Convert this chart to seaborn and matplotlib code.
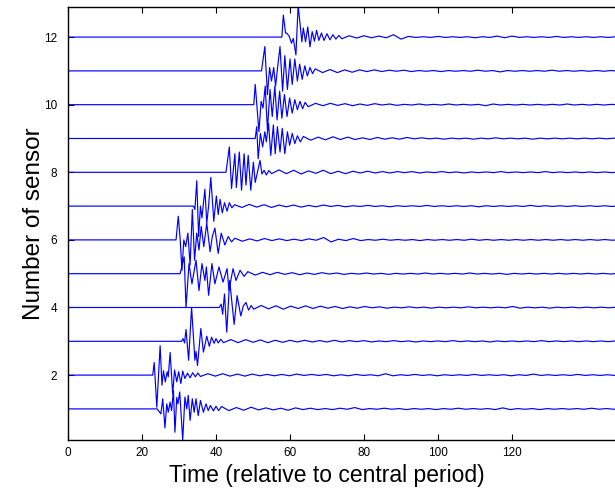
import matplotlib
matplotlib.use("Agg")
import matplotlib.pyplot as plt
import numpy as np
import pandas as pd
import seaborn as sns

# ---------------- data ----------------
sensors = [1, 2, 3, 4, 5, 6, 7, 8, 9, 10, 11, 12]
record_start = 0.0
coda_step = 2.0
x_ticks = [0, 20, 40, 60, 80, 100, 120]
y_ticks = [2, 4, 6, 8, 10, 12]
x_label = "Time (relative to central period)"
y_label = "Number of sensor"

s1_t = [24.1, 25.1, 25.6, 26.2, 26.7, 27.1, 27.6, 28.0, 28.5, 28.9, 29.4, 29.7, 30.2, 31.0, 31.6,
        32.1, 32.5, 33.0, 33.6, 34.1, 34.6, 35.2, 35.8, 36.6, 37.3, 37.9, 38.5, 39.3, 40.0, 40.7, 41.5]
s1_v = [0, -0.15, 0.30, -0.56, 0.15, -0.10, 0.20, -0.05, 0.54, -0.69, 0.34, 0.15, 0.50, -0.92, 0.35,
        0.0, 0.40, -0.34, 0.30, -0.10, 0.30, -0.20, 0.25, -0.10, 0.15, -0.05, 0.10, -0.06, 0.08, -0.05, 0.07]
s1_coda = [-0.05, 0.04, -0.04, 0.05, -0.03, 0.03, -0.03, 0.02, -0.04, 0.03,
           -0.02, 0.02, -0.02, 0.01, -0.02, 0.02, -0.01, 0.04, -0.02, 0.01,
           -0.01, 0.02, -0.01, 0.01, -0.02, 0.01, -0.01, 0.01, -0.02, 0.01,
           -0.01, 0.02, -0.01, 0.01, -0.01, 0.01, -0.02, 0.03, -0.02, 0.01,
           -0.01, 0.01, -0.02, 0.01, -0.01, 0.01, -0.01, 0.01, -0.01, 0.02,
           -0.01, 0.01, -0.01, 0.01, -0.01, 0.01, -0.01, 0.01]

s2_t = [22.9, 23.3, 24.0, 24.9, 25.4, 25.8, 26.3, 26.8, 27.1, 27.6, 28.3, 28.8, 29.4, 29.9, 30.5,
        31.0, 31.6, 32.3, 33.0, 33.7, 34.4, 35.1, 35.8]
s2_v = [0, 0.37, -0.95, 0.87, -0.30, 0.13, -0.20, 0.10, -0.05, 0.67, -0.56, 0.15, -0.20, 0.10, -0.25,
        0.12, -0.10, 0.06, -0.08, 0.07, -0.05, 0.06, -0.04]
s2_coda = [0.04, -0.03, 0.04, -0.03, 0.03, -0.03, 0.03, -0.02, 0.02, -0.02,
           0.02, -0.02, 0.03, -0.01, 0.02, -0.01, 0.02, -0.02, 0.01, -0.02,
           0.02, -0.01, 0.01, -0.02, 0.04, -0.02, 0.01, -0.01, 0.02, -0.01,
           0.01, -0.02, 0.01, -0.01, 0.01, -0.01, 0.02, -0.01, 0.01, -0.01,
           0.01, -0.02, 0.01, -0.01, 0.03, -0.01, 0.01, -0.01, 0.01, -0.01,
           0.02, -0.01, 0.01, -0.01, 0.01, -0.01, 0.01, -0.01, 0.01, -0.01]

s3_t = [30.7, 31.1, 31.5, 31.9, 32.6, 33.4, 34.3, 34.6, 35.0, 35.9, 36.6, 37.5, 38.2, 38.8, 39.5,
        40.0, 40.6, 41.3, 42.0]
s3_v = [0, 0.08, -0.05, 0.35, -0.56, 1.0, -0.56, -0.30, -0.72, 0.38, -0.32, 0.15, -0.15, 0.12, -0.06,
        0.08, -0.05, 0.06, -0.04]
s3_coda = [0.05, -0.04, 0.05, -0.03, 0.04, -0.04, 0.03, -0.03, 0.03, -0.02,
           0.03, -0.02, 0.02, -0.02, 0.03, -0.02, 0.02, -0.01, 0.02, -0.02,
           0.01, -0.01, 0.02, -0.01, 0.01, -0.02, 0.01, -0.01, 0.01, -0.01,
           0.02, -0.01, 0.01, -0.01, 0.01, -0.02, 0.01, -0.01, 0.01, -0.01,
           0.01, -0.01, 0.02, -0.01, 0.01, -0.01, 0.01, -0.01, 0.01, -0.01,
           0.01, -0.01, 0.01, -0.01, 0.01, -0.01, 0.01, -0.01]

s4_t = [40.9, 41.4, 41.8, 42.3, 42.9, 43.7, 44.9, 45.7, 46.7, 47.4, 48.1, 48.8, 49.5, 50.2]
s4_v = [0, 0.10, -0.20, 0.40, -0.73, 0.80, -0.50, 0.35, -0.25, 0.05, 0.15, -0.08, 0.06, -0.05]
s4_coda = [0.06, -0.04, 0.05, -0.05, 0.04, -0.03, 0.05, -0.03, 0.04, -0.02,
           0.03, -0.03, 0.02, -0.02, 0.03, -0.01, 0.02, -0.02, 0.01, -0.01,
           0.02, -0.01, 0.01, -0.02, 0.01, -0.01, 0.01, -0.01, 0.02, -0.01,
           0.01, -0.01, 0.01, -0.01, 0.03, -0.02, 0.01, -0.01, 0.01, -0.02,
           0.01, -0.01, 0.01, -0.01, 0.01, -0.01, 0.01, -0.01, 0.01, -0.01,
           0.01, -0.01, 0.01, -0.01]

s5_t = [30.3, 31.4, 31.9, 32.7, 33.5, 34.6, 35.4, 36.2, 37.0, 37.4, 38.0, 38.9, 39.7, 40.8, 41.9,
        43.0, 43.5, 44.6, 45.4, 46.5, 47.6, 48.6]
s5_v = [0, 0.50, -1.0, 0.30, -0.30, 0.40, -0.50, 0.30, -0.20, 0.20, -0.64, 0.30, -0.30, 0.20, -0.25,
        0.15, -0.50, 0.15, -0.20, 0.10, -0.08, 0.06]
s5_coda = [-0.04, 0.04, -0.03, 0.04, -0.02, 0.03, -0.03, 0.02, -0.02, 0.03,
           -0.01, 0.02, -0.02, 0.01, -0.01, 0.02, -0.01, 0.01, -0.02, 0.01,
           -0.01, 0.01, -0.01, 0.02, -0.01, 0.01, -0.01, 0.01, -0.01, 0.02,
           -0.01, 0.01, -0.01, 0.01, -0.02, 0.01, -0.01, 0.01, -0.01, 0.01,
           -0.01, 0.01, -0.01, 0.01, -0.01, 0.01, -0.01, 0.01, -0.01, 0.01,
           -0.01, 0.01, -0.01, 0.01, -0.01]

s6_t = [29.2, 29.8, 30.3, 30.8, 31.3, 31.8, 32.4, 33.0, 33.6, 34.2, 34.8, 35.4, 36.0, 36.7, 37.5,
        38.4, 39.0, 39.7, 40.6, 41.4, 42.4, 43.3, 44.2, 45.1]
s6_v = [0, 0.70, 0.05, -0.90, 0.0, -0.20, 0.20, -0.75, 0.90, -0.60, 0.20, -0.30, 0.40, -0.20, 0.50,
        -0.35, 0.10, 0.35, -0.40, 0.20, -0.15, 0.10, -0.06, 0.05]
s6_coda = [-0.04, 0.03, -0.03, 0.04, -0.02, 0.03, -0.02, 0.02, -0.02, 0.03,
           -0.01, 0.07, -0.06, 0.02, -0.02, 0.04, -0.02, 0.01, -0.01, 0.02,
           -0.01, 0.01, -0.01, 0.01, -0.02, 0.01, -0.01, 0.01, -0.01, 0.01,
           -0.01, 0.02, -0.01, 0.01, -0.01, 0.01, -0.01, 0.01, -0.01, 0.01,
           -0.01, 0.01, -0.01, 0.01, -0.01, 0.01, -0.01, 0.01, -0.01, 0.01,
           -0.01, 0.01, -0.01, 0.01]

s7_t = [33.9, 34.3, 34.8, 35.3, 35.8, 36.2, 37.0, 37.5, 38.0, 38.6, 39.4, 40.1, 40.6, 41.1, 41.7,
        42.3, 43.0, 43.6, 44.3, 45.0]
s7_v = [0, -0.10, 0.75, -0.90, 0.0, -0.35, 0.50, -0.50, 0.0, 0.85, -0.45, 0.30, -0.25, 0.20, -0.20,
        0.10, -0.15, 0.10, -0.05, 0.04]
s7_coda = [-0.04, 0.05, -0.03, 0.04, -0.04, 0.03, -0.02, 0.03, -0.03, 0.02,
           -0.02, 0.03, -0.01, 0.02, -0.02, 0.01, -0.01, 0.02, -0.01, 0.01,
           -0.02, 0.01, -0.01, 0.01, -0.01, 0.02, -0.01, 0.01, -0.01, 0.01,
           -0.01, 0.01, -0.02, 0.01, -0.01, 0.01, -0.01, 0.01, -0.01, 0.02,
           -0.01, 0.01, -0.01, 0.01, -0.01, 0.01, -0.01, 0.01, -0.01, 0.01,
           -0.01, 0.01, -0.01, 0.01]

s8_t = [42.7, 43.6, 44.2, 45.1, 45.5, 46.3, 46.9, 47.6, 48.1, 48.7, 49.4, 50.1, 50.6, 51.4, 51.9,
        52.4, 53.0, 53.6, 54.3, 55.0]
s8_v = [0, 0.75, -0.48, 0.55, -0.45, 0.60, -0.53, 0.55, -0.38, 0.50, -0.53, 0.30, -0.30, 0.10, 0.35,
        -0.05, 0.06, -0.08, 0.05, -0.04]
s8_coda = [0.07, -0.04, 0.06, -0.05, 0.04, -0.03, 0.06, -0.04, 0.03, -0.04,
           0.03, -0.02, 0.03, -0.02, 0.02, -0.02, 0.02, -0.01, 0.02, -0.02,
           0.01, -0.01, 0.02, -0.01, 0.01, -0.02, 0.01, -0.01, 0.01, -0.01,
           0.02, -0.01, 0.01, -0.01, 0.01, -0.01, 0.02, -0.01, 0.01, -0.01,
           0.01, -0.01, 0.01, -0.01, 0.01, -0.01, 0.01, -0.01, 0.01, -0.01]

s9_t = [50.6, 51.0, 51.4, 52.0, 52.6, 53.2, 53.6, 54.2, 54.8, 55.5, 56.0, 56.6, 57.3, 57.9, 58.6,
        59.3, 59.9, 60.6, 61.3, 62.0, 62.8, 63.6]
s9_v = [0, 0.35, -0.60, 0.15, -0.25, 0.20, -0.10, 0.45, -0.50, 0.40, -0.45, 0.35, -0.40, 0.30, -0.45,
        0.20, -0.20, 0.15, -0.15, 0.08, -0.10, 0.06]
s9_coda = [-0.05, 0.04, -0.04, 0.05, -0.03, 0.04, -0.03, 0.02, -0.03, 0.03,
           -0.02, 0.02, -0.02, 0.03, -0.01, 0.02, -0.01, 0.01, -0.02, 0.01,
           -0.01, 0.01, -0.02, 0.01, -0.01, 0.02, -0.01, 0.01, -0.01, 0.01,
           -0.02, 0.01, -0.01, 0.01, -0.01, 0.01, -0.01, 0.01, -0.01, 0.01,
           -0.01, 0.01, -0.01, 0.01]

s10_t = [50.2, 50.6, 51.1, 51.6, 52.2, 52.7, 53.3, 53.9, 54.6, 55.2, 55.9, 56.5, 57.2, 57.8, 58.5,
         59.2, 59.9, 60.6, 61.3, 62.0, 62.7, 63.4, 64.1, 64.9]
s10_v = [0, 0.60, -0.10, -0.80, 0.10, -0.10, 0.55, -0.75, 0.45, -0.35, 0.55, -0.45, 0.40, -0.40, 0.30,
         -0.35, 0.20, -0.25, 0.15, -0.15, 0.10, -0.12, 0.07, -0.06]
s10_coda = [0.04, -0.03, 0.04, -0.02, 0.03, -0.03, 0.02, -0.02, 0.03, -0.01,
            0.02, -0.02, 0.01, -0.01, 0.02, -0.01, 0.01, -0.01, 0.02, -0.01,
            0.01, -0.01, 0.01, -0.03, 0.02, -0.01, 0.01, -0.01, 0.01, -0.01,
            0.01, -0.01, 0.01, -0.01, 0.02, -0.01, 0.01, -0.01, 0.01, -0.01,
            0.01, -0.01, 0.01, -0.01]

s11_t = [52.3, 53.2, 53.9, 54.5, 55.0, 55.6, 56.1, 56.7, 57.3, 58.0, 58.6, 59.3, 60.0, 60.6, 61.3,
         62.0, 62.6, 63.3, 64.0, 64.7, 65.4, 66.1, 66.8]
s11_v = [0, 0.72, -0.70, 0.10, -0.30, 0.10, -0.45, 0.15, 0.72, -0.60, 0.45, -0.55, 0.35, -0.40, 0.35,
         -0.30, 0.20, -0.25, 0.15, -0.15, 0.10, -0.08, 0.06]
s11_coda = [-0.05, 0.04, -0.05, 0.03, -0.04, 0.03, -0.02, 0.03, -0.02, 0.02,
            -0.01, 0.02, -0.02, 0.01, -0.01, 0.01, -0.02, 0.01, -0.01, 0.01,
            -0.01, 0.02, -0.01, 0.01, -0.03, 0.01, -0.01, 0.01, -0.01, 0.01,
            -0.01, 0.02, -0.01, 0.01, -0.01, 0.01, -0.01, 0.01, -0.01, 0.01,
            -0.01, 0.01, -0.01]

s12_t = [57.8, 58.2, 58.8, 59.1, 59.8, 60.4, 60.9, 61.6, 62.2, 63.2, 63.6, 64.2, 64.8, 65.4, 66.0,
         66.6, 67.2, 67.8, 68.5, 69.2, 70.0, 70.8, 71.6, 72.4, 73.2, 74.0]
s12_v = [0, 0.65, 0.12, 0.12, 0.02, -0.18, -0.04, -0.53, 0.95, -0.14, 0.27, -0.14, 0.30, -0.29, 0.16,
         -0.12, 0.20, -0.10, 0.12, -0.10, 0.10, -0.08, 0.07, -0.06, 0.05, -0.05]
s12_coda = [0.04, -0.03, 0.04, -0.02, 0.03, -0.02, 0.07, -0.06, 0.02, -0.01,
            0.01, -0.01, 0.02, -0.01, 0.01, -0.01, 0.01, -0.02, 0.01, -0.01,
            0.03, -0.02, 0.03, -0.01, 0.01, -0.01, 0.01, -0.01, 0.02, -0.01,
            0.01, -0.01, 0.01, -0.01, 0.01, -0.01, 0.01, -0.01, 0.01]

bursts_t = [s1_t, s2_t, s3_t, s4_t, s5_t, s6_t, s7_t, s8_t, s9_t, s10_t, s11_t, s12_t]
bursts_v = [s1_v, s2_v, s3_v, s4_v, s5_v, s6_v, s7_v, s8_v, s9_v, s10_v, s11_v, s12_v]
codas = [s1_coda, s2_coda, s3_coda, s4_coda, s5_coda, s6_coda, s7_coda, s8_coda,
         s9_coda, s10_coda, s11_coda, s12_coda]

# ---------------- build long table ----------------
rows = []
for k, bt, bv, cv in zip(sensors, bursts_t, bursts_v, codas):
    times = [record_start] + list(bt) + [bt[-1] + coda_step * (i + 1) for i in range(len(cv))]
    vals = [0.0] + list(bv) + list(cv)
    for i, (t, v) in enumerate(zip(times, vals)):
        rows.append({"sensor": k, "time": t, "signal": k + v, "order": i})
df = pd.DataFrame(rows)

# ---------------- draw ----------------
sns.set_theme(style="white")
plt.rcParams["font.family"] = ["Liberation Sans", "DejaVu Sans"]

fig = plt.figure(figsize=(6.15, 4.88), dpi=100)
ax = fig.add_axes([68 / 615, 48 / 488, 1 - 68 / 615, (440 - 7) / 488])

sns.lineplot(data=df, x="time", y="signal", hue="sensor", units="sensor",
             estimator=None, sort=False, palette={k: "#0000ff" for k in sensors},
             legend=False, linewidth=0.85, ax=ax)

ax.set_xlim(0, (615 - 68) / 3.7)
ax.set_ylim(0.08, 12.89)
ax.set_xticks(x_ticks)
ax.set_yticks(y_ticks)
ax.set_xticklabels([str(v) for v in x_ticks])
ax.set_yticklabels([str(v) for v in y_ticks])
ax.tick_params(axis="both", direction="in", length=4, width=0.8, labelsize=8.5,
               colors="black", top=True, right=False, bottom=True, left=True)
ax.tick_params(axis="x", pad=5)
ax.tick_params(axis="y", pad=8)
for side in ["left", "bottom", "top"]:
    ax.spines[side].set_color("black")
    ax.spines[side].set_linewidth(1.0)
ax.spines["right"].set_visible(False)
ax.set_xlabel(x_label, fontsize=16.5, color="black", labelpad=0)
ax.set_ylabel(y_label, fontsize=17.5, color="black", labelpad=-1)
ax.xaxis.set_label_coords((327 - 68) / (615 - 68), -0.055, transform=ax.transAxes)
ax.xaxis.label.set_verticalalignment("top")
ax.grid(False)

fig.savefig("out.png", dpi=100)
